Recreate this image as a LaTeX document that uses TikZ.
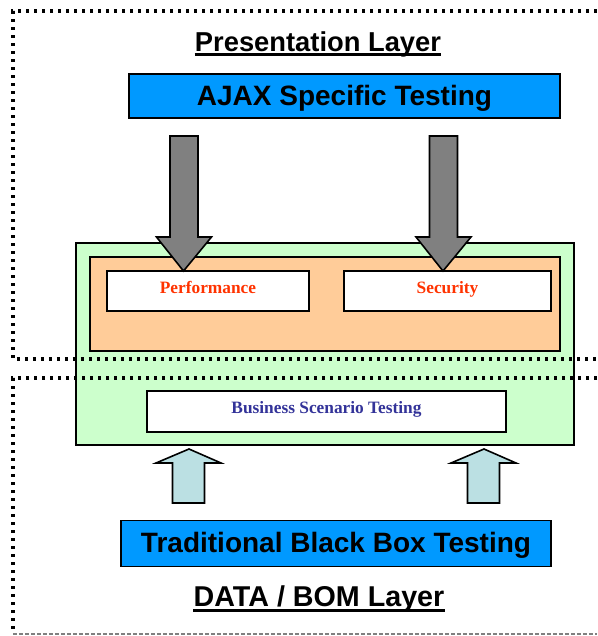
\documentclass[tikz,border=0pt]{standalone}
\usepackage{fontspec}
\setmainfont{Liberation Serif}
\setsansfont{Liberation Sans}
\usetikzlibrary{positioning}
\definecolor{ajaxblue}{HTML}{0099FF}
\definecolor{panelgreen}{HTML}{CCFFCC}
\definecolor{panelorange}{HTML}{FFCC99}
\definecolor{arrowgrey}{HTML}{808080}
\definecolor{arrowblue}{HTML}{BBE0E3}
\definecolor{ajaxred}{HTML}{FF3300}
\definecolor{bizblue}{HTML}{333399}
\def\px{0.75pt}

\begin{document}
\begin{tikzpicture}[
    x=0.75pt, y=-0.75pt,
    layerframe/.style={line width=2.6pt, dash pattern=on 2.6pt off 3.4pt},
    layertitle/.style={font=\sffamily\bfseries, inner sep=0pt, anchor=base},
    underbar/.style={line width=2.2pt},
    bluebox/.style={draw, line width=1.2pt, fill=ajaxblue, inner sep=0pt,
        font=\sffamily\bfseries\fontsize{21}{25}\selectfont, text height=15pt, text depth=1pt},
    panel/.style={draw, line width=1.5pt, inner sep=0pt},
    testbox/.style={draw, fill=white, line width=1.2pt, inner sep=0pt,
        font=\bfseries\fontsize{13}{15}\selectfont, text height=9pt, text depth=6pt},
    greyarrow/.style={draw, line width=1.2pt, fill=arrowgrey, line join=miter},
    bluearrow/.style={draw, line width=1.2pt, fill=arrowblue, line join=miter},
]
    \useasboundingbox (0,0) rectangle (597,636);

    % Presentation layer
    \node[layertitle, font=\sffamily\bfseries\fontsize{20.5}{24}\selectfont] (pres) at (318,51) {Presentation Layer};
    \draw[underbar] ([yshift=-2.7pt]pres.base west) -- ([yshift=-2.7pt]pres.base east);
    \node[bluebox, minimum width=431*\px, minimum height=44*\px] (ajax) at (344.5,96) {AJAX Specific Testing};

    % Shared panels
    \node[panel, fill=panelgreen, minimum width=498*\px, minimum height=202*\px] (green) at (325,344) {};
    \node[panel, fill=panelorange, minimum width=470*\px, minimum height=94*\px] (orange) at (325,304) {};
    \node[testbox, text=ajaxred, minimum width=202*\px, minimum height=40*\px] (perf) at (208,291) {Performance};
    \node[testbox, text=ajaxred, minimum width=207*\px, minimum height=40*\px] (sec) at (447.5,291) {Security};
    \node[testbox, text=bizblue, minimum width=359*\px, minimum height=41*\px] (biz) at (326.5,411.5) {Business Scenario Testing};

    % Arrows down from AJAX testing
    \foreach \x in {184,443.5}
        \draw[greyarrow] (\x-14,136) -- (\x+14,136) -- (\x+14,237) -- (\x+27.5,237)
            -- (\x-0.5,271) -- (\x-27.5,237) -- (\x-14,237) -- cycle;

    % Data / BOM layer
    \node[bluebox, minimum width=430*\px, minimum height=46*\px] (trad) at (336,543.5) {Traditional Black Box Testing};
    \node[layertitle, font=\sffamily\bfseries\fontsize{21.5}{25}\selectfont] (data) at (319,606) {DATA / BOM Layer};
    \draw[underbar] ([yshift=-3.4pt]data.base west) -- ([yshift=-3.4pt]data.base east);

    % Arrows up from black box testing
    \foreach \x in {188.5,483.5}
        \draw[bluearrow] (\x-16,503) -- (\x+16,503) -- (\x+16,463) -- (\x+32.5,463)
            -- (\x+0.5,449) -- (\x-32.5,463) -- (\x-16,463) -- cycle;

    % Layer frames
    \draw[layerframe] (597,11) -- (13,11) -- (13,359) -- (597,359);
    \draw[layerframe] (597,378) -- (13,378) -- (13,632);
    \draw[gray, line width=0.8pt, dash pattern=on 3pt off 1.5pt] (13,634) -- (597,634);
\end{tikzpicture}
\end{document}
